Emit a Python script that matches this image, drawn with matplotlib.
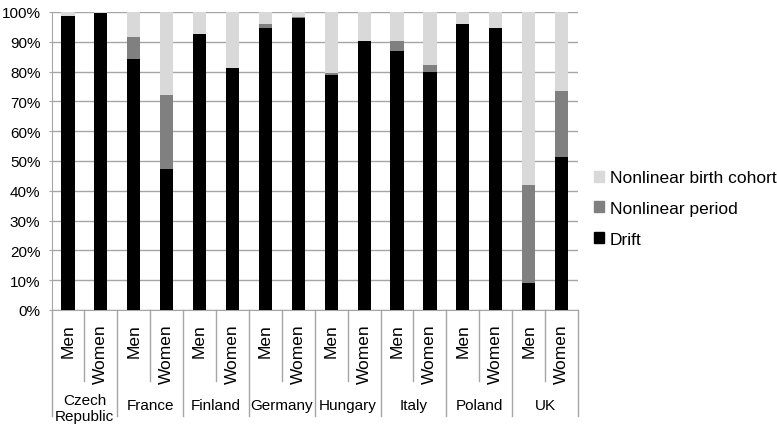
import matplotlib
matplotlib.use("Agg")
import matplotlib.pyplot as plt
import matplotlib.transforms as mtransforms
import numpy as np
from matplotlib.patches import Patch

plt.rcParams['font.family'] = ['Liberation Sans', 'DejaVu Sans']

countries = ["Czech\nRepublic", "France", "Finland", "Germany", "Hungary", "Italy", "Poland", "UK"]
sexes = ["Men", "Women"]

# percent of total
drift = [98.7, 99.8, 84.3, 47.4, 92.7, 81.3, 94.7, 98.0,
         78.7, 90.4, 86.9, 79.7, 96.1, 94.5, 9.2, 51.2]
period = [0.0, 0.0, 7.4, 24.7, 0.0, 0.0, 1.4, 0.3,
          0.8, 0.0, 3.5, 2.5, 0.0, 0.2, 32.9, 22.3]
cohort = [100 - d - p for d, p in zip(drift, period)]

W, H = 777, 427
fig = plt.figure(figsize=(W / 100, H / 100), dpi=100)
ax = fig.add_axes([51.5 / W, (H - 311) / H, 526.5 / W, 298 / H])

x = np.arange(len(drift))
bw = 0.4
ax.bar(x, drift, bw, color="#000000", label="Drift", zorder=3)
ax.bar(x, period, bw, bottom=drift, color="#808080", label="Nonlinear period", zorder=3)
ax.bar(x, cohort, bw, bottom=np.array(drift) + np.array(period),
       color="#d9d9d9", label="Nonlinear birth cohort", zorder=3)

ax.set_xlim(-0.5, len(drift) - 0.5)
ax.set_ylim(0, 100)
ax.set_yticks(range(0, 101, 10))
ax.set_yticklabels([f"{v}%" for v in range(0, 101, 10)], fontsize=11)
ax.yaxis.grid(True, color="#a6a6a6", lw=1, zorder=0)
ax.tick_params(axis="y", length=2.5, color="#a6a6a6", pad=5.5)
ax.set_xticks([])
for s in ["top", "right"]:
    ax.spines[s].set_visible(False)
ax.spines["left"].set_color("#a6a6a6")
ax.spines["bottom"].set_color("#a6a6a6")

# category labels below the axis, in pixel offsets from the x axis
trans = mtransforms.blended_transform_factory(ax.transData, ax.transAxes)
px = 1 / 298
for i in x:
    ax.text(i, -13 * px, sexes[i % 2], rotation=90, ha="center", va="top",
            fontsize=12.5, transform=trans)
for k in range(len(drift) + 1):
    xs = k - 0.5
    depth = 106 if k % 2 == 0 else 71
    ax.plot([xs, xs], [0, -depth * px], color="#a6a6a6", lw=1,
            transform=trans, clip_on=False)
for j, c in enumerate(countries):
    yc = -98 * px if "\n" in c else -95 * px
    ax.text(2 * j + 0.5, yc, c, ha="center", va="center", fontsize=11,
            linespacing=1.2, transform=trans)

handles = [Patch(color="#d9d9d9"), Patch(color="#808080"), Patch(color="#000000")]
labels = ["Nonlinear birth cohort", "Nonlinear period", "Drift"]
fig.legend(handles, labels, loc="center left", bbox_to_anchor=(594 / W, 1 - 209.5 / H),
           frameon=False, fontsize=12.5, handlelength=0.6, handleheight=0.6,
           handletextpad=0.3, labelspacing=0.9, borderpad=0, borderaxespad=0)

fig.savefig("out.png", dpi=100)
